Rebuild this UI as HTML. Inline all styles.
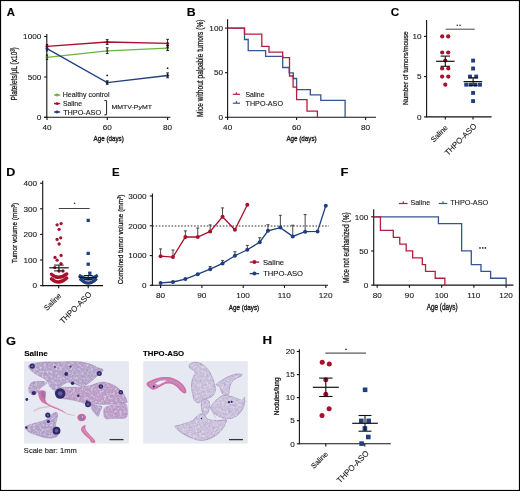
<!DOCTYPE html>
<html><head><meta charset="utf-8"><style>
html,body{margin:0;padding:0;background:#fff;}
svg{display:block;filter:blur(0.25px);font-family:"Liberation Sans",sans-serif;}
</style></head><body>
<svg width="520" height="491" viewBox="0 0 520 491">
<defs>
<filter id="tex" x="-5%" y="-5%" width="110%" height="110%" color-interpolation-filters="sRGB">
<feTurbulence type="fractalNoise" baseFrequency="0.45" numOctaves="2" seed="7" result="n0"/>
<feGaussianBlur in="n0" stdDeviation="0.45" result="n"/>
<feColorMatrix in="n" type="matrix" values="0 0 0 0 1  0 0 0 0 1  0 0 0 0 1  1.3 0 0 0 -0.58" result="w"/>
<feColorMatrix in="n" type="matrix" values="0 0 0 0 0.6  0 0 0 0 0.5  0 0 0 0 0.72  0 1.3 0 0 -0.72" result="d"/>
<feComposite in="w" in2="SourceGraphic" operator="in" result="wc"/>
<feComposite in="d" in2="SourceGraphic" operator="in" result="dc"/>
<feMerge><feMergeNode in="SourceGraphic"/><feMergeNode in="wc"/><feMergeNode in="dc"/></feMerge>
</filter>
</defs>
<rect width="520" height="491" fill="#fff"/>
<rect x="0.5" y="0.5" width="519" height="490" fill="none" stroke="#000" stroke-width="1.2"/>
<text transform="translate(6.82,16.30) scale(0.987,1)" font-size="11.49" font-weight="bold" fill="#000" stroke="#000" stroke-width="0.1215617224880383" >A</text>
<line x1="46.80" y1="34.00" x2="46.80" y2="117.85" stroke="#111" stroke-width="1.1" />
<line x1="44.20" y1="36.50" x2="46.80" y2="36.50" stroke="#111" stroke-width="1.1" />
<text transform="translate(23.12,39.22) scale(1.010,1)" font-size="8.10" font-weight="normal" fill="#1a1a1a" stroke="#1a1a1a" stroke-width="0.12">1000</text>
<line x1="44.20" y1="77.00" x2="46.80" y2="77.00" stroke="#111" stroke-width="1.1" />
<text transform="translate(27.66,79.72) scale(1.010,1)" font-size="8.10" font-weight="normal" fill="#1a1a1a" stroke="#1a1a1a" stroke-width="0.12">500</text>
<line x1="44.20" y1="117.30" x2="46.80" y2="117.30" stroke="#111" stroke-width="1.1" />
<text transform="translate(36.77,120.02) scale(1.010,1)" font-size="8.10" font-weight="normal" fill="#1a1a1a" stroke="#1a1a1a" stroke-width="0.12">0</text>
<line x1="44.20" y1="117.30" x2="170.30" y2="117.30" stroke="#111" stroke-width="1.1" />
<line x1="47.00" y1="117.30" x2="47.00" y2="119.90" stroke="#111" stroke-width="1.1" />
<text transform="translate(42.52,130.45) scale(1.010,1)" font-size="8.10" font-weight="normal" fill="#1a1a1a" stroke="#1a1a1a" stroke-width="0.12">40</text>
<line x1="107.30" y1="117.30" x2="107.30" y2="119.90" stroke="#111" stroke-width="1.1" />
<text transform="translate(102.71,130.45) scale(1.010,1)" font-size="8.10" font-weight="normal" fill="#1a1a1a" stroke="#1a1a1a" stroke-width="0.12">60</text>
<line x1="167.60" y1="117.30" x2="167.60" y2="119.90" stroke="#111" stroke-width="1.1" />
<text transform="translate(163.04,130.45) scale(1.010,1)" font-size="8.10" font-weight="normal" fill="#1a1a1a" stroke="#1a1a1a" stroke-width="0.12">80</text>
<text transform="translate(93.58,141.18) scale(0.910,1)" font-size="6.86" font-weight="normal" fill="#1a1a1a" stroke="#1a1a1a" stroke-width="0.3295751839789843" >Age (days)</text>
<text transform="translate(17.08,100.54) rotate(-90) scale(0.749,1)" font-size="8.80" font-weight="normal" fill="#1a1a1a" stroke="#1a1a1a" stroke-width="0.28">Platelets/μL (x10³)</text>
<polyline points="47.00,46.30 107.20,42.00 167.60,43.40" fill="none" stroke="#a8102c" stroke-width="1.3" stroke-linejoin="miter" />
<polyline points="47.00,57.30 107.20,50.80 167.60,48.10" fill="none" stroke="#6cb33f" stroke-width="1.3" stroke-linejoin="miter" />
<polyline points="47.00,48.60 107.20,82.60 167.60,75.50" fill="none" stroke="#1f3f7f" stroke-width="1.3" stroke-linejoin="miter" />
<circle cx="47.00" cy="46.30" r="1.50" fill="#a8102c"/>
<circle cx="107.20" cy="42.00" r="1.50" fill="#a8102c"/>
<circle cx="167.60" cy="43.40" r="1.50" fill="#a8102c"/>
<circle cx="47.00" cy="57.30" r="1.50" fill="#6cb33f"/>
<circle cx="107.20" cy="50.80" r="1.50" fill="#6cb33f"/>
<circle cx="167.60" cy="48.10" r="1.50" fill="#6cb33f"/>
<circle cx="47.00" cy="48.60" r="1.50" fill="#1f3f7f"/>
<circle cx="107.20" cy="82.60" r="1.50" fill="#1f3f7f"/>
<circle cx="167.60" cy="75.50" r="1.50" fill="#1f3f7f"/>
<line x1="107.20" y1="39.60" x2="107.20" y2="44.40" stroke="#111" stroke-width="0.9" />
<line x1="105.80" y1="39.60" x2="108.60" y2="39.60" stroke="#111" stroke-width="0.9" />
<line x1="105.80" y1="44.40" x2="108.60" y2="44.40" stroke="#111" stroke-width="0.9" />
<line x1="107.20" y1="47.80" x2="107.20" y2="53.60" stroke="#111" stroke-width="0.9" />
<line x1="105.80" y1="47.80" x2="108.60" y2="47.80" stroke="#111" stroke-width="0.9" />
<line x1="105.80" y1="53.60" x2="108.60" y2="53.60" stroke="#111" stroke-width="0.9" />
<line x1="107.20" y1="80.80" x2="107.20" y2="84.30" stroke="#111" stroke-width="0.9" />
<line x1="105.80" y1="80.80" x2="108.60" y2="80.80" stroke="#111" stroke-width="0.9" />
<line x1="105.80" y1="84.30" x2="108.60" y2="84.30" stroke="#111" stroke-width="0.9" />
<line x1="167.60" y1="39.30" x2="167.60" y2="47.00" stroke="#111" stroke-width="0.9" />
<line x1="166.20" y1="39.30" x2="169.00" y2="39.30" stroke="#111" stroke-width="0.9" />
<line x1="166.20" y1="47.00" x2="169.00" y2="47.00" stroke="#111" stroke-width="0.9" />
<line x1="167.60" y1="45.50" x2="167.60" y2="50.60" stroke="#111" stroke-width="0.9" />
<line x1="166.20" y1="45.50" x2="169.00" y2="45.50" stroke="#111" stroke-width="0.9" />
<line x1="166.20" y1="50.60" x2="169.00" y2="50.60" stroke="#111" stroke-width="0.9" />
<line x1="167.60" y1="72.90" x2="167.60" y2="77.80" stroke="#111" stroke-width="0.9" />
<line x1="166.20" y1="72.90" x2="169.00" y2="72.90" stroke="#111" stroke-width="0.9" />
<line x1="166.20" y1="77.80" x2="169.00" y2="77.80" stroke="#111" stroke-width="0.9" />
<line x1="47.00" y1="44.50" x2="47.00" y2="50.80" stroke="#111" stroke-width="0.9" />
<line x1="45.80" y1="44.50" x2="48.20" y2="44.50" stroke="#111" stroke-width="0.9" />
<line x1="45.80" y1="50.80" x2="48.20" y2="50.80" stroke="#111" stroke-width="0.9" />
<line x1="47.00" y1="55.00" x2="47.00" y2="59.50" stroke="#111" stroke-width="0.9" />
<line x1="45.80" y1="55.00" x2="48.20" y2="55.00" stroke="#111" stroke-width="0.9" />
<line x1="45.80" y1="59.50" x2="48.20" y2="59.50" stroke="#111" stroke-width="0.9" />
<circle cx="107.20" cy="75.40" r="0.90" fill="#222"/>
<circle cx="167.60" cy="68.20" r="0.90" fill="#222"/>
<line x1="54.00" y1="95.00" x2="60.20" y2="95.00" stroke="#6cb33f" stroke-width="1.4" />
<ellipse cx="57.0" cy="95.00" rx="1.7" ry="1.4" fill="#6cb33f"/>
<line x1="54.00" y1="103.60" x2="60.20" y2="103.60" stroke="#a8102c" stroke-width="1.4" />
<ellipse cx="57.0" cy="103.60" rx="1.7" ry="1.4" fill="#a8102c"/>
<line x1="54.00" y1="112.00" x2="60.20" y2="112.00" stroke="#1f3f7f" stroke-width="1.4" />
<ellipse cx="57.0" cy="112.00" rx="1.7" ry="1.4" fill="#1f3f7f"/>
<text transform="translate(62.72,97.38) scale(1.026,1)" font-size="6.86" font-weight="normal" fill="#1a1a1a" stroke="#1a1a1a" stroke-width="0.12" >Healthy control</text>
<text transform="translate(62.99,105.93) scale(1.047,1)" font-size="6.53" font-weight="normal" fill="#1a1a1a" stroke="#1a1a1a" stroke-width="0.12" >Saline</text>
<text transform="translate(63.14,114.83) scale(1.030,1)" font-size="7.07" font-weight="normal" fill="#1a1a1a" stroke="#1a1a1a" stroke-width="0.12" >THPO-ASO</text>
<polyline points="104.30,100.60 106.60,100.60 106.60,114.80 104.30,114.80" fill="none" stroke="#222" stroke-width="1.0" stroke-linejoin="miter" />
<text transform="translate(111.43,109.44) scale(1.244,1)" font-size="5.59" font-weight="normal" fill="#1a1a1a" stroke="#1a1a1a" stroke-width="0.12" >MMTV-PyMT</text>
<text transform="translate(186.67,16.30) scale(1.142,1)" font-size="10.76" font-weight="bold" fill="#000" stroke="#000" stroke-width="0.12" >B</text>
<line x1="227.60" y1="19.30" x2="227.60" y2="117.85" stroke="#111" stroke-width="1.1" />
<line x1="225.00" y1="28.10" x2="227.60" y2="28.10" stroke="#111" stroke-width="1.1" />
<text transform="translate(209.36,30.82) scale(1.010,1)" font-size="8.10" font-weight="normal" fill="#1a1a1a" stroke="#1a1a1a" stroke-width="0.12">100</text>
<line x1="225.00" y1="72.70" x2="227.60" y2="72.70" stroke="#111" stroke-width="1.1" />
<text transform="translate(213.93,75.42) scale(1.010,1)" font-size="8.10" font-weight="normal" fill="#1a1a1a" stroke="#1a1a1a" stroke-width="0.12">50</text>
<line x1="225.00" y1="117.30" x2="227.60" y2="117.30" stroke="#111" stroke-width="1.1" />
<text transform="translate(218.47,120.02) scale(1.010,1)" font-size="8.10" font-weight="normal" fill="#1a1a1a" stroke="#1a1a1a" stroke-width="0.12">0</text>
<line x1="227.60" y1="117.30" x2="376.00" y2="117.30" stroke="#111" stroke-width="1.1" />
<line x1="227.60" y1="117.30" x2="227.60" y2="119.90" stroke="#111" stroke-width="1.1" />
<text transform="translate(223.12,130.45) scale(1.010,1)" font-size="8.10" font-weight="normal" fill="#1a1a1a" stroke="#1a1a1a" stroke-width="0.12">40</text>
<line x1="296.60" y1="117.30" x2="296.60" y2="119.90" stroke="#111" stroke-width="1.1" />
<text transform="translate(292.01,130.45) scale(1.010,1)" font-size="8.10" font-weight="normal" fill="#1a1a1a" stroke="#1a1a1a" stroke-width="0.12">60</text>
<line x1="365.60" y1="117.30" x2="365.60" y2="119.90" stroke="#111" stroke-width="1.1" />
<text transform="translate(361.04,130.45) scale(1.010,1)" font-size="8.10" font-weight="normal" fill="#1a1a1a" stroke="#1a1a1a" stroke-width="0.12">80</text>
<text transform="translate(286.38,141.18) scale(0.916,1)" font-size="6.86" font-weight="normal" fill="#1a1a1a" stroke="#1a1a1a" stroke-width="0.32737801608579115" >Age (days)</text>
<text transform="translate(202.80,116.94) rotate(-90) scale(0.710,1)" font-size="9.29" font-weight="normal" fill="#1a1a1a" stroke="#1a1a1a" stroke-width="0.28">Mice without palpable tumors (%)</text>
<polyline points="227.60,28.10 244.50,28.10 244.50,39.50 248.20,39.50 248.20,50.60 265.60,50.60 265.60,56.30 282.70,56.30 282.70,67.50 289.20,67.50 289.20,72.90 293.30,72.90 293.30,78.50 296.60,78.50 296.60,89.60 310.30,89.60 310.30,94.90 320.80,94.90 320.80,100.40 345.10,100.40 345.10,117.30" fill="none" stroke="#36548f" stroke-width="1.3" stroke-linejoin="miter" />
<polyline points="227.60,28.10 244.50,28.10 244.50,34.20 261.80,34.20 261.80,46.40 269.00,46.40 269.00,52.10 282.70,52.10 282.70,57.70 289.50,57.70 289.50,76.00 293.10,76.00 293.10,87.20 296.60,87.20 296.60,99.70 307.00,99.70 307.00,111.20 317.40,111.20 317.40,117.30" fill="none" stroke="#b81c3e" stroke-width="1.3" stroke-linejoin="miter" />
<line x1="232.80" y1="94.30" x2="240.00" y2="94.30" stroke="#b81c3e" stroke-width="1.2" />
<line x1="236.40" y1="92.20" x2="236.40" y2="94.30" stroke="#b81c3e" stroke-width="1.1" />
<line x1="232.80" y1="103.20" x2="240.00" y2="103.20" stroke="#36548f" stroke-width="1.2" />
<line x1="236.40" y1="101.10" x2="236.40" y2="103.20" stroke="#36548f" stroke-width="1.1" />
<text transform="translate(245.39,96.53) scale(0.936,1)" font-size="7.35" font-weight="normal" fill="#1a1a1a" stroke="#1a1a1a" stroke-width="0.12819415333701026" >Saline</text>
<text transform="translate(245.54,105.92) scale(0.924,1)" font-size="7.77" font-weight="normal" fill="#1a1a1a" stroke="#1a1a1a" stroke-width="0.12990736319358226" >THPO-ASO</text>
<text transform="translate(390.73,16.29) scale(1.109,1)" font-size="10.60" font-weight="bold" fill="#000" stroke="#000" stroke-width="0.12" >C</text>
<line x1="426.60" y1="20.00" x2="426.60" y2="117.45" stroke="#111" stroke-width="1.1" />
<line x1="424.00" y1="36.40" x2="426.60" y2="36.40" stroke="#111" stroke-width="1.1" />
<text transform="translate(412.53,39.12) scale(1.010,1)" font-size="8.10" font-weight="normal" fill="#1a1a1a" stroke="#1a1a1a" stroke-width="0.12">10</text>
<line x1="424.00" y1="76.60" x2="426.60" y2="76.60" stroke="#111" stroke-width="1.1" />
<text transform="translate(417.09,79.32) scale(1.010,1)" font-size="8.10" font-weight="normal" fill="#1a1a1a" stroke="#1a1a1a" stroke-width="0.12">5</text>
<line x1="424.00" y1="116.90" x2="426.60" y2="116.90" stroke="#111" stroke-width="1.1" />
<text transform="translate(417.07,119.62) scale(1.010,1)" font-size="8.10" font-weight="normal" fill="#1a1a1a" stroke="#1a1a1a" stroke-width="0.12">0</text>
<line x1="426.60" y1="116.90" x2="491.60" y2="116.90" stroke="#111" stroke-width="1.1" />
<line x1="445.30" y1="116.90" x2="445.30" y2="119.50" stroke="#111" stroke-width="1.1" />
<line x1="473.00" y1="116.90" x2="473.00" y2="119.50" stroke="#111" stroke-width="1.1" />
<text transform="translate(407.67,105.04) rotate(-90) scale(0.859,1)" font-size="7.60" font-weight="normal" fill="#1a1a1a" stroke="#1a1a1a" stroke-width="0.28">Number of tumors/mouse</text>
<text transform="translate(433.74,142.65) rotate(-45)" font-size="7.36" font-weight="normal" fill="#1a1a1a" stroke="#1a1a1a" stroke-width="0.12">Saline</text>
<text transform="translate(447.88,155.91) rotate(-45)" font-size="7.94" font-weight="normal" fill="#1a1a1a" stroke="#1a1a1a" stroke-width="0.12">THPO-ASO</text>
<line x1="445.70" y1="29.20" x2="474.80" y2="29.20" stroke="#444" stroke-width="1.0" />
<circle cx="457.30" cy="25.30" r="0.80" fill="#222"/>
<circle cx="460.00" cy="25.30" r="0.80" fill="#222"/>
<circle cx="442.20" cy="36.40" r="2.10" fill="#a8102c"/>
<circle cx="448.20" cy="36.40" r="2.10" fill="#a8102c"/>
<circle cx="442.20" cy="52.50" r="2.10" fill="#a8102c"/>
<circle cx="448.20" cy="52.50" r="2.10" fill="#a8102c"/>
<circle cx="445.30" cy="60.50" r="2.10" fill="#a8102c"/>
<circle cx="442.10" cy="68.50" r="2.10" fill="#a8102c"/>
<circle cx="448.30" cy="68.50" r="2.10" fill="#a8102c"/>
<circle cx="442.10" cy="76.60" r="2.10" fill="#a8102c"/>
<circle cx="448.30" cy="76.60" r="2.10" fill="#a8102c"/>
<circle cx="445.30" cy="84.70" r="2.10" fill="#a8102c"/>
<line x1="436.10" y1="61.30" x2="454.60" y2="61.30" stroke="#111" stroke-width="1.2" />
<line x1="445.30" y1="56.10" x2="445.30" y2="66.30" stroke="#111" stroke-width="1.1" />
<line x1="440.60" y1="56.10" x2="450.00" y2="56.10" stroke="#111" stroke-width="1.1" />
<line x1="440.60" y1="66.30" x2="450.00" y2="66.30" stroke="#111" stroke-width="1.1" />
<rect x="471.15" y="58.65" width="3.90" height="3.90" fill="#1f3f7f"/>
<rect x="471.15" y="66.55" width="3.90" height="3.90" fill="#1f3f7f"/>
<rect x="468.05" y="74.65" width="3.90" height="3.90" fill="#1f3f7f"/>
<rect x="474.25" y="74.65" width="3.90" height="3.90" fill="#1f3f7f"/>
<rect x="464.25" y="82.75" width="3.90" height="3.90" fill="#1f3f7f"/>
<rect x="468.65" y="82.75" width="3.90" height="3.90" fill="#1f3f7f"/>
<rect x="473.45" y="82.75" width="3.90" height="3.90" fill="#1f3f7f"/>
<rect x="478.05" y="82.75" width="3.90" height="3.90" fill="#1f3f7f"/>
<rect x="471.15" y="90.95" width="3.90" height="3.90" fill="#1f3f7f"/>
<rect x="471.15" y="99.15" width="3.90" height="3.90" fill="#1f3f7f"/>
<line x1="463.60" y1="81.60" x2="482.20" y2="81.60" stroke="#111" stroke-width="1.2" />
<line x1="473.10" y1="77.80" x2="473.10" y2="85.40" stroke="#111" stroke-width="1.1" />
<line x1="468.60" y1="77.80" x2="477.60" y2="77.80" stroke="#111" stroke-width="1.1" />
<line x1="468.60" y1="85.40" x2="477.60" y2="85.40" stroke="#111" stroke-width="1.1" />
<text transform="translate(6.25,176.20) scale(1.235,1)" font-size="10.18" font-weight="bold" fill="#000" stroke="#000" stroke-width="0.12" >D</text>
<line x1="42.70" y1="180.80" x2="42.70" y2="286.15" stroke="#111" stroke-width="1.1" />
<line x1="40.10" y1="183.20" x2="42.70" y2="183.20" stroke="#111" stroke-width="1.1" />
<text transform="translate(23.46,185.92) scale(1.010,1)" font-size="8.10" font-weight="normal" fill="#1a1a1a" stroke="#1a1a1a" stroke-width="0.12">400</text>
<line x1="40.10" y1="208.80" x2="42.70" y2="208.80" stroke="#111" stroke-width="1.1" />
<text transform="translate(23.46,211.52) scale(1.010,1)" font-size="8.10" font-weight="normal" fill="#1a1a1a" stroke="#1a1a1a" stroke-width="0.12">300</text>
<line x1="40.10" y1="234.40" x2="42.70" y2="234.40" stroke="#111" stroke-width="1.1" />
<text transform="translate(23.46,237.12) scale(1.010,1)" font-size="8.10" font-weight="normal" fill="#1a1a1a" stroke="#1a1a1a" stroke-width="0.12">200</text>
<line x1="40.10" y1="260.00" x2="42.70" y2="260.00" stroke="#111" stroke-width="1.1" />
<text transform="translate(23.46,262.72) scale(1.010,1)" font-size="8.10" font-weight="normal" fill="#1a1a1a" stroke="#1a1a1a" stroke-width="0.12">100</text>
<line x1="40.10" y1="285.60" x2="42.70" y2="285.60" stroke="#111" stroke-width="1.1" />
<text transform="translate(32.57,288.32) scale(1.010,1)" font-size="8.10" font-weight="normal" fill="#1a1a1a" stroke="#1a1a1a" stroke-width="0.12">0</text>
<line x1="42.70" y1="285.60" x2="103.10" y2="285.60" stroke="#111" stroke-width="1.1" />
<line x1="58.70" y1="285.60" x2="58.70" y2="288.20" stroke="#111" stroke-width="1.1" />
<line x1="88.20" y1="285.60" x2="88.20" y2="288.20" stroke="#111" stroke-width="1.1" />
<text transform="translate(17.09,263.35) rotate(-90) scale(0.807,1)" font-size="8.07" font-weight="normal" fill="#1a1a1a" stroke="#1a1a1a" stroke-width="0.28">Tumor volume (mm³)</text>
<text transform="translate(47.09,310.96) rotate(-45)" font-size="7.49" font-weight="normal" fill="#1a1a1a" stroke="#1a1a1a" stroke-width="0.12">Saline</text>
<text transform="translate(62.89,324.23) rotate(-45)" font-size="7.94" font-weight="normal" fill="#1a1a1a" stroke="#1a1a1a" stroke-width="0.12">THPO-ASO</text>
<line x1="58.80" y1="208.50" x2="89.70" y2="208.50" stroke="#444" stroke-width="1.0" />
<circle cx="74.60" cy="203.30" r="0.80" fill="#222"/>
<path d="M51.4,274.2 Q58.4,280.6 66.8,273.9" fill="none" stroke="#a8102c" stroke-width="3.3" stroke-linecap="round"/>
<path d="M51.4,278.8 Q58.4,285.6 66.8,278.0" fill="none" stroke="#a8102c" stroke-width="3.3" stroke-linecap="round"/>
<circle cx="57.10" cy="224.80" r="1.65" fill="#a8102c"/>
<circle cx="61.10" cy="223.60" r="1.65" fill="#a8102c"/>
<circle cx="59.10" cy="229.30" r="1.65" fill="#a8102c"/>
<circle cx="57.10" cy="239.40" r="1.65" fill="#a8102c"/>
<circle cx="60.70" cy="237.80" r="1.65" fill="#a8102c"/>
<circle cx="59.10" cy="244.00" r="1.65" fill="#a8102c"/>
<circle cx="55.00" cy="257.40" r="1.65" fill="#a8102c"/>
<circle cx="61.10" cy="255.40" r="1.65" fill="#a8102c"/>
<circle cx="57.10" cy="260.20" r="1.65" fill="#a8102c"/>
<circle cx="61.00" cy="263.60" r="1.65" fill="#a8102c"/>
<circle cx="54.80" cy="267.60" r="1.65" fill="#a8102c"/>
<circle cx="59.00" cy="271.00" r="1.65" fill="#a8102c"/>
<circle cx="63.00" cy="271.00" r="1.65" fill="#a8102c"/>
<line x1="49.30" y1="267.80" x2="68.70" y2="267.80" stroke="#111" stroke-width="1.2" />
<line x1="58.90" y1="265.10" x2="58.90" y2="270.90" stroke="#111" stroke-width="1.0" />
<line x1="54.10" y1="265.10" x2="63.70" y2="265.10" stroke="#111" stroke-width="1.0" />
<line x1="54.10" y1="270.90" x2="63.70" y2="270.90" stroke="#111" stroke-width="1.0" />
<rect x="86.55" y="218.75" width="3.30" height="3.30" fill="#1f3f7f"/>
<rect x="86.55" y="251.75" width="3.30" height="3.30" fill="#1f3f7f"/>
<rect x="86.55" y="262.55" width="3.30" height="3.30" fill="#1f3f7f"/>
<rect x="88.15" y="271.55" width="3.30" height="3.30" fill="#1f3f7f"/>
<path d="M80.2,276.0 Q88.2,281.5 96.4,276.0" fill="none" stroke="#1f3f7f" stroke-width="3.2" stroke-linecap="square"/>
<path d="M81.0,279.6 Q88.2,286.6 95.6,279.6" fill="none" stroke="#1f3f7f" stroke-width="3.2" stroke-linecap="square"/>
<line x1="78.70" y1="277.60" x2="97.20" y2="277.60" stroke="#111" stroke-width="1.2" />
<line x1="88.20" y1="275.50" x2="88.20" y2="279.80" stroke="#111" stroke-width="1.0" />
<line x1="83.70" y1="275.50" x2="92.70" y2="275.50" stroke="#111" stroke-width="1.0" />
<line x1="83.70" y1="279.80" x2="92.70" y2="279.80" stroke="#111" stroke-width="1.0" />
<text transform="translate(112.03,176.20) scale(1.122,1)" font-size="10.18" font-weight="bold" fill="#000" stroke="#000" stroke-width="0.12" >E</text>
<line x1="152.40" y1="193.60" x2="152.40" y2="285.85" stroke="#111" stroke-width="1.1" />
<line x1="149.80" y1="196.00" x2="152.40" y2="196.00" stroke="#111" stroke-width="1.1" />
<text transform="translate(128.32,198.72) scale(1.010,1)" font-size="8.10" font-weight="normal" fill="#1a1a1a" stroke="#1a1a1a" stroke-width="0.12">3000</text>
<line x1="149.80" y1="225.80" x2="152.40" y2="225.80" stroke="#111" stroke-width="1.1" />
<text transform="translate(128.32,228.52) scale(1.010,1)" font-size="8.10" font-weight="normal" fill="#1a1a1a" stroke="#1a1a1a" stroke-width="0.12">2000</text>
<line x1="149.80" y1="255.60" x2="152.40" y2="255.60" stroke="#111" stroke-width="1.1" />
<text transform="translate(128.32,258.32) scale(1.010,1)" font-size="8.10" font-weight="normal" fill="#1a1a1a" stroke="#1a1a1a" stroke-width="0.12">1000</text>
<line x1="149.80" y1="285.30" x2="152.40" y2="285.30" stroke="#111" stroke-width="1.1" />
<text transform="translate(141.97,288.02) scale(1.010,1)" font-size="8.10" font-weight="normal" fill="#1a1a1a" stroke="#1a1a1a" stroke-width="0.12">0</text>
<line x1="151.00" y1="285.30" x2="328.00" y2="285.30" stroke="#111" stroke-width="1.1" />
<line x1="160.60" y1="285.30" x2="160.60" y2="287.90" stroke="#111" stroke-width="1.1" />
<text transform="translate(156.04,298.05) scale(1.010,1)" font-size="8.10" font-weight="normal" fill="#1a1a1a" stroke="#1a1a1a" stroke-width="0.12">80</text>
<line x1="201.90" y1="285.30" x2="201.90" y2="287.90" stroke="#111" stroke-width="1.1" />
<text transform="translate(197.32,298.05) scale(1.010,1)" font-size="8.10" font-weight="normal" fill="#1a1a1a" stroke="#1a1a1a" stroke-width="0.12">90</text>
<line x1="243.20" y1="285.30" x2="243.20" y2="287.90" stroke="#111" stroke-width="1.1" />
<text transform="translate(236.23,298.05) scale(1.010,1)" font-size="8.10" font-weight="normal" fill="#1a1a1a" stroke="#1a1a1a" stroke-width="0.12">100</text>
<line x1="284.50" y1="285.30" x2="284.50" y2="287.90" stroke="#111" stroke-width="1.1" />
<text transform="translate(277.83,298.05) scale(1.010,1)" font-size="8.10" font-weight="normal" fill="#1a1a1a" stroke="#1a1a1a" stroke-width="0.12">110</text>
<line x1="325.80" y1="285.30" x2="325.80" y2="287.90" stroke="#111" stroke-width="1.1" />
<text transform="translate(318.83,298.05) scale(1.010,1)" font-size="8.10" font-weight="normal" fill="#1a1a1a" stroke="#1a1a1a" stroke-width="0.12">120</text>
<text transform="translate(228.78,310.13) scale(0.889,1)" font-size="7.08" font-weight="normal" fill="#1a1a1a" stroke="#1a1a1a" stroke-width="0.33760857908847297" >Age (days)</text>
<text transform="translate(123.19,284.33) rotate(-90) scale(0.806,1)" font-size="8.07" font-weight="normal" fill="#1a1a1a" stroke="#1a1a1a" stroke-width="0.28">Combined tumor volume (mm³)</text>
<line x1="152.4" y1="226.0" x2="329" y2="226.0" stroke="#333" stroke-width="1" stroke-dasharray="1.6,1.6"/>
<line x1="160.60" y1="256.20" x2="160.60" y2="248.90" stroke="#333" stroke-width="0.9" />
<line x1="159.10" y1="248.90" x2="162.10" y2="248.90" stroke="#333" stroke-width="0.9" />
<line x1="172.99" y1="257.10" x2="172.99" y2="250.00" stroke="#333" stroke-width="0.9" />
<line x1="171.49" y1="250.00" x2="174.49" y2="250.00" stroke="#333" stroke-width="0.9" />
<line x1="185.38" y1="237.00" x2="185.38" y2="230.90" stroke="#333" stroke-width="0.9" />
<line x1="183.88" y1="230.90" x2="186.88" y2="230.90" stroke="#333" stroke-width="0.9" />
<line x1="197.77" y1="237.00" x2="197.77" y2="228.00" stroke="#333" stroke-width="0.9" />
<line x1="196.27" y1="228.00" x2="199.27" y2="228.00" stroke="#333" stroke-width="0.9" />
<line x1="210.16" y1="231.40" x2="210.16" y2="224.90" stroke="#333" stroke-width="0.9" />
<line x1="208.66" y1="224.90" x2="211.66" y2="224.90" stroke="#333" stroke-width="0.9" />
<line x1="222.55" y1="216.80" x2="222.55" y2="207.90" stroke="#333" stroke-width="0.9" />
<line x1="221.05" y1="207.90" x2="224.05" y2="207.90" stroke="#333" stroke-width="0.9" />
<line x1="210.16" y1="269.20" x2="210.16" y2="266.60" stroke="#333" stroke-width="0.9" />
<line x1="208.66" y1="266.60" x2="211.66" y2="266.60" stroke="#333" stroke-width="0.9" />
<line x1="222.55" y1="263.40" x2="222.55" y2="260.60" stroke="#333" stroke-width="0.9" />
<line x1="221.05" y1="260.60" x2="224.05" y2="260.60" stroke="#333" stroke-width="0.9" />
<line x1="234.94" y1="255.70" x2="234.94" y2="251.70" stroke="#333" stroke-width="0.9" />
<line x1="233.44" y1="251.70" x2="236.44" y2="251.70" stroke="#333" stroke-width="0.9" />
<line x1="247.33" y1="249.80" x2="247.33" y2="245.40" stroke="#333" stroke-width="0.9" />
<line x1="245.83" y1="245.40" x2="248.83" y2="245.40" stroke="#333" stroke-width="0.9" />
<line x1="259.72" y1="242.20" x2="259.72" y2="237.70" stroke="#333" stroke-width="0.9" />
<line x1="258.22" y1="237.70" x2="261.22" y2="237.70" stroke="#333" stroke-width="0.9" />
<line x1="267.98" y1="230.80" x2="267.98" y2="224.70" stroke="#333" stroke-width="0.9" />
<line x1="266.48" y1="224.70" x2="269.48" y2="224.70" stroke="#333" stroke-width="0.9" />
<line x1="280.37" y1="227.60" x2="280.37" y2="215.30" stroke="#333" stroke-width="0.9" />
<line x1="278.87" y1="215.30" x2="281.87" y2="215.30" stroke="#333" stroke-width="0.9" />
<line x1="292.76" y1="236.40" x2="292.76" y2="225.20" stroke="#333" stroke-width="0.9" />
<line x1="291.26" y1="225.20" x2="294.26" y2="225.20" stroke="#333" stroke-width="0.9" />
<line x1="305.15" y1="231.70" x2="305.15" y2="214.60" stroke="#333" stroke-width="0.9" />
<line x1="303.65" y1="214.60" x2="306.65" y2="214.60" stroke="#333" stroke-width="0.9" />
<polyline points="160.60,256.20 172.99,257.10 185.38,237.00 197.77,237.00 210.16,231.40 222.55,216.80 234.94,229.80 247.33,204.80" fill="none" stroke="#a8102c" stroke-width="1.3" stroke-linejoin="miter" />
<polyline points="160.60,282.90 172.99,282.00 185.38,279.10 197.77,274.20 210.16,269.20 222.55,263.40 234.94,255.70 247.33,249.80 259.72,242.20 267.98,230.80 280.37,227.60 292.76,236.40 305.15,231.70 317.54,231.40 325.80,205.70" fill="none" stroke="#1f3f7f" stroke-width="1.3" stroke-linejoin="miter" />
<circle cx="160.60" cy="256.20" r="2.00" fill="#a8102c"/>
<circle cx="172.99" cy="257.10" r="2.00" fill="#a8102c"/>
<circle cx="185.38" cy="237.00" r="2.00" fill="#a8102c"/>
<circle cx="197.77" cy="237.00" r="2.00" fill="#a8102c"/>
<circle cx="210.16" cy="231.40" r="2.00" fill="#a8102c"/>
<circle cx="222.55" cy="216.80" r="2.00" fill="#a8102c"/>
<circle cx="234.94" cy="229.80" r="2.00" fill="#a8102c"/>
<circle cx="247.33" cy="204.80" r="2.00" fill="#a8102c"/>
<circle cx="160.60" cy="282.90" r="2.00" fill="#1f3f7f"/>
<circle cx="172.99" cy="282.00" r="2.00" fill="#1f3f7f"/>
<circle cx="185.38" cy="279.10" r="2.00" fill="#1f3f7f"/>
<circle cx="197.77" cy="274.20" r="2.00" fill="#1f3f7f"/>
<circle cx="210.16" cy="269.20" r="2.00" fill="#1f3f7f"/>
<circle cx="222.55" cy="263.40" r="2.00" fill="#1f3f7f"/>
<circle cx="234.94" cy="255.70" r="2.00" fill="#1f3f7f"/>
<circle cx="247.33" cy="249.80" r="2.00" fill="#1f3f7f"/>
<circle cx="259.72" cy="242.20" r="2.00" fill="#1f3f7f"/>
<circle cx="267.98" cy="230.80" r="2.00" fill="#1f3f7f"/>
<circle cx="280.37" cy="227.60" r="2.00" fill="#1f3f7f"/>
<circle cx="292.76" cy="236.40" r="2.00" fill="#1f3f7f"/>
<circle cx="305.15" cy="231.70" r="2.00" fill="#1f3f7f"/>
<circle cx="317.54" cy="231.40" r="2.00" fill="#1f3f7f"/>
<circle cx="325.80" cy="205.70" r="2.00" fill="#1f3f7f"/>
<line x1="249.70" y1="262.10" x2="259.10" y2="262.10" stroke="#a8102c" stroke-width="1.3" />
<circle cx="254.40" cy="262.10" r="2.00" fill="#a8102c"/>
<line x1="249.70" y1="273.60" x2="259.10" y2="273.60" stroke="#1f3f7f" stroke-width="1.3" />
<circle cx="254.40" cy="273.60" r="2.00" fill="#1f3f7f"/>
<text transform="translate(262.96,264.73) scale(1.037,1)" font-size="7.35" font-weight="normal" fill="#1a1a1a" stroke="#1a1a1a" stroke-width="0.12" >Saline</text>
<text transform="translate(263.13,276.22) scale(1.004,1)" font-size="7.63" font-weight="normal" fill="#1a1a1a" stroke="#1a1a1a" stroke-width="0.12" >THPO-ASO</text>
<text transform="translate(340.62,176.00) scale(1.277,1)" font-size="10.18" font-weight="bold" fill="#000" stroke="#000" stroke-width="0.12" >F</text>
<line x1="373.70" y1="209.20" x2="373.70" y2="285.65" stroke="#111" stroke-width="1.1" />
<line x1="371.10" y1="216.80" x2="373.70" y2="216.80" stroke="#111" stroke-width="1.1" />
<text transform="translate(354.66,219.52) scale(1.010,1)" font-size="8.10" font-weight="normal" fill="#1a1a1a" stroke="#1a1a1a" stroke-width="0.12">100</text>
<line x1="371.10" y1="251.00" x2="373.70" y2="251.00" stroke="#111" stroke-width="1.1" />
<text transform="translate(359.23,253.72) scale(1.010,1)" font-size="8.10" font-weight="normal" fill="#1a1a1a" stroke="#1a1a1a" stroke-width="0.12">50</text>
<line x1="371.10" y1="285.10" x2="373.70" y2="285.10" stroke="#111" stroke-width="1.1" />
<text transform="translate(363.77,287.82) scale(1.010,1)" font-size="8.10" font-weight="normal" fill="#1a1a1a" stroke="#1a1a1a" stroke-width="0.12">0</text>
<line x1="373.70" y1="285.10" x2="513.40" y2="285.10" stroke="#111" stroke-width="1.1" />
<line x1="377.20" y1="285.10" x2="377.20" y2="287.70" stroke="#111" stroke-width="1.1" />
<text transform="translate(372.64,298.05) scale(1.010,1)" font-size="8.10" font-weight="normal" fill="#1a1a1a" stroke="#1a1a1a" stroke-width="0.12">80</text>
<line x1="409.43" y1="285.10" x2="409.43" y2="287.70" stroke="#111" stroke-width="1.1" />
<text transform="translate(404.84,298.05) scale(1.010,1)" font-size="8.10" font-weight="normal" fill="#1a1a1a" stroke="#1a1a1a" stroke-width="0.12">90</text>
<line x1="441.65" y1="285.10" x2="441.65" y2="287.70" stroke="#111" stroke-width="1.1" />
<text transform="translate(434.68,298.05) scale(1.010,1)" font-size="8.10" font-weight="normal" fill="#1a1a1a" stroke="#1a1a1a" stroke-width="0.12">100</text>
<line x1="473.88" y1="285.10" x2="473.88" y2="287.70" stroke="#111" stroke-width="1.1" />
<text transform="translate(467.21,298.05) scale(1.010,1)" font-size="8.10" font-weight="normal" fill="#1a1a1a" stroke="#1a1a1a" stroke-width="0.12">110</text>
<line x1="506.10" y1="285.10" x2="506.10" y2="287.70" stroke="#111" stroke-width="1.1" />
<text transform="translate(499.13,298.05) scale(1.010,1)" font-size="8.10" font-weight="normal" fill="#1a1a1a" stroke="#1a1a1a" stroke-width="0.12">120</text>
<text transform="translate(426.68,309.91) scale(0.785,1)" font-size="8.15" font-weight="normal" fill="#1a1a1a" stroke="#1a1a1a" stroke-width="0.38238825649365027" >Age (days)</text>
<text transform="translate(348.64,283.04) rotate(-90) scale(0.726,1)" font-size="9.05" font-weight="normal" fill="#1a1a1a" stroke="#1a1a1a" stroke-width="0.28">Mice not euthanized (%)</text>
<polyline points="373.70,216.80 438.43,216.80 438.43,223.63 461.63,223.63 461.63,250.95 471.30,250.95 471.30,264.61 480.96,264.61 480.96,271.44 490.63,271.44 490.63,278.27 506.10,278.27 506.10,285.10" fill="none" stroke="#36548f" stroke-width="1.3" stroke-linejoin="miter" />
<polyline points="373.70,216.80 380.42,216.80 380.42,230.46 393.31,230.46 393.31,237.29 399.76,237.29 399.76,244.12 406.20,244.12 406.20,250.95 412.65,250.95 412.65,257.78 422.31,257.78 422.31,264.61 425.54,264.61 425.54,271.44 435.20,271.44 435.20,278.27 444.87,278.27 444.87,285.10" fill="none" stroke="#b81c3e" stroke-width="1.3" stroke-linejoin="miter" />
<circle cx="480.00" cy="247.90" r="0.85" fill="#222"/>
<circle cx="482.70" cy="247.90" r="0.85" fill="#222"/>
<circle cx="485.40" cy="247.90" r="0.85" fill="#222"/>
<line x1="398.90" y1="203.50" x2="407.60" y2="203.50" stroke="#b81c3e" stroke-width="1.2" />
<line x1="403.30" y1="201.30" x2="403.30" y2="203.50" stroke="#b81c3e" stroke-width="1.1" />
<line x1="438.70" y1="203.50" x2="447.30" y2="203.50" stroke="#36548f" stroke-width="1.2" />
<line x1="443.00" y1="201.30" x2="443.00" y2="203.50" stroke="#36548f" stroke-width="1.1" />
<text transform="translate(410.48,204.83) scale(0.980,1)" font-size="7.21" font-weight="normal" fill="#1a1a1a" stroke="#1a1a1a" stroke-width="0.12250912996777685" >Saline</text>
<text transform="translate(450.14,204.83) scale(0.977,1)" font-size="7.49" font-weight="normal" fill="#1a1a1a" stroke="#1a1a1a" stroke-width="0.12285909776832189" >THPO-ASO</text>
<text transform="translate(6.08,344.50) scale(1.284,1)" font-size="10.04" font-weight="bold" fill="#000" stroke="#000" stroke-width="0.12" >G</text>
<text transform="translate(24.16,356.32) scale(1.020,1)" font-size="7.89" font-weight="bold" fill="#000" stroke="#000" stroke-width="0.12" >Saline</text>
<text transform="translate(143.02,356.13) scale(1.105,1)" font-size="7.07" font-weight="bold" fill="#000" stroke="#000" stroke-width="0.12" >THPO-ASO</text>
<text transform="translate(23.86,452.92) scale(0.958,1)" font-size="7.89" font-weight="normal" fill="#1a1a1a" stroke="#1a1a1a" stroke-width="0.12527400211524176" >Scale bar: 1mm</text>
<rect x="24.0" y="361.2" width="104.9" height="82.4" fill="#e6e9f1"/>
<rect x="143.2" y="361.2" width="104.6" height="82.4" fill="#e6e9f1"/>
<path d="M28.7,367.2 C28.3,365.7 28.7,365.4 30.6,364.5 C32.5,363.6 34.5,363.3 38.2,362.8 C41.9,362.3 44.6,362.2 48.9,362.1 C53.2,362.0 55.4,362.2 59.7,362.1 C64.0,362.0 66.8,361.9 70.5,361.8 C74.2,361.7 75.1,361.6 78.0,361.8 C80.9,362.0 81.9,362.2 84.8,362.8 C87.7,363.4 89.7,364.0 92.3,365.0 C94.9,366.0 95.5,366.7 97.7,367.7 C99.9,368.7 102.7,368.7 103.1,369.8 C103.5,370.9 101.3,371.6 99.8,373.1 C98.3,374.6 97.2,375.8 95.5,377.4 C93.8,379.0 93.1,379.7 91.2,381.2 C89.3,382.7 87.8,383.9 85.8,384.9 C83.8,385.9 83.3,386.4 81.3,386.3 C79.3,386.2 78.3,385.1 76.0,384.3 C73.7,383.5 72.2,382.6 70.0,382.4 C67.8,382.2 66.8,382.5 65.0,383.3 C63.2,384.1 62.8,385.2 61.0,386.5 C59.2,387.8 57.6,389.0 56.0,389.6 C54.4,390.2 54.2,389.8 53.2,389.5 C52.2,389.2 51.9,388.8 51.2,388.0 C50.5,387.2 50.2,386.8 49.6,385.7 C49.0,384.6 48.9,383.8 48.1,382.6 C47.3,381.4 47.0,380.6 45.8,379.5 C44.6,378.4 43.6,378.1 41.9,377.2 C40.2,376.3 39.1,376.0 37.3,374.9 C35.5,373.8 34.4,373.3 32.7,371.8 C31.0,370.3 29.1,368.7 28.7,367.2Z" fill="#b4a3c9" stroke="#9a82b2" stroke-width="0.6" filter="url(#tex)" />
<path d="M28.8,389.5 C28.6,388.0 29.0,387.1 29.6,385.7 C30.2,384.3 30.5,383.4 31.9,382.6 C33.3,381.8 34.5,381.7 36.5,381.5 C38.5,381.3 40.0,381.4 41.9,381.5 C43.8,381.6 44.9,381.8 45.8,382.2 C46.7,382.6 47.0,382.7 46.5,383.4 C46.0,384.1 44.7,384.8 43.5,385.7 C42.3,386.6 41.5,386.9 40.4,388.0 C39.3,389.1 38.9,390.0 38.1,391.1 C37.3,392.2 37.4,392.6 36.5,393.4 C35.6,394.2 34.7,394.9 33.5,394.9 C32.3,394.9 31.3,394.5 30.4,393.4 C29.5,392.3 29.0,391.0 28.8,389.5Z" fill="#b4a3c9" stroke="#9a82b2" stroke-width="0.6" filter="url(#tex)" />
<path d="M56.5,389.5 C58.1,388.6 60.2,387.9 62.9,387.5 C65.6,387.1 67.0,387.4 70.0,387.4 C73.0,387.4 75.7,387.4 78.0,387.3 C80.3,387.2 79.1,387.2 81.3,386.9 C83.5,386.6 86.3,386.6 89.1,386.0 C91.9,385.4 92.9,384.6 95.5,383.8 C98.1,383.0 99.4,382.3 102.0,382.2 C104.6,382.1 105.9,382.5 108.5,383.3 C111.1,384.1 112.5,384.6 114.9,386.0 C117.3,387.4 118.4,388.4 120.3,390.3 C122.2,392.2 123.3,393.5 124.6,395.7 C125.9,397.9 126.4,399.8 126.8,401.1 C127.2,402.4 127.9,402.0 126.8,402.4 C125.7,402.8 125.5,402.5 121.4,402.9 C117.3,403.3 111.4,404.1 106.3,404.3 C101.2,404.5 99.7,404.0 96.0,404.0 C92.3,404.0 91.2,404.7 88.0,404.3 C84.8,403.9 83.6,402.8 80.0,401.8 C76.4,400.8 73.6,400.2 70.0,399.5 C66.4,398.8 64.7,399.1 62.0,398.2 C59.3,397.3 57.9,396.4 56.5,395.2 C55.1,394.0 55.0,393.1 55.0,392.0 C55.0,390.9 54.9,390.4 56.5,389.5Z" fill="#bb9dc7" stroke="#9a82b2" stroke-width="0.6" filter="url(#tex)" />
<path d="M91.2,404.3 C91.6,404.0 94.9,405.4 96.0,405.6 C97.1,405.8 101.6,405.9 102.0,406.5 C102.4,407.1 100.2,410.8 99.8,411.8 C99.4,412.8 98.7,416.1 98.2,416.2 C97.7,416.3 95.1,413.7 94.5,412.9 C93.9,412.1 92.1,409.5 91.8,408.6 C91.5,407.7 90.8,404.6 91.2,404.3Z" fill="#b4a3c9" stroke="#9a82b2" stroke-width="0.6" filter="url(#tex)" />
<path d="M104.2,408.6 C104.9,407.2 107.8,406.5 109.5,405.9 C111.2,405.3 115.1,404.6 117.1,404.3 C119.1,404.0 123.3,403.1 124.6,403.4 C125.9,403.7 126.4,405.1 126.8,406.5 C127.2,407.9 127.4,412.5 127.3,414.0 C127.2,415.5 126.8,417.2 125.7,417.8 C124.6,418.4 121.1,418.2 119.2,418.3 C117.3,418.4 113.4,418.2 111.7,418.3 C110.0,418.4 107.3,419.1 106.3,418.8 C105.3,418.5 104.5,417.6 104.2,416.2 C103.9,414.8 103.5,410.0 104.2,408.6Z" fill="#bb9dc7" stroke="#9a82b2" stroke-width="0.6" filter="url(#tex)" />
<path d="M25.8,426.9 C26.1,426.1 27.0,425.9 28.5,425.3 C30.0,424.7 32.8,423.8 34.9,423.2 C37.0,422.6 39.4,422.1 41.4,421.5 C43.4,420.9 45.4,420.3 46.8,419.4 C48.2,418.5 48.9,417.2 50.0,416.2 C51.1,415.2 52.1,414.1 53.2,413.5 C54.3,412.9 55.8,412.1 56.5,412.4 C57.2,412.7 57.5,413.8 57.5,415.1 C57.5,416.5 56.9,418.9 56.5,420.5 C56.1,422.1 55.4,423.2 55.4,424.8 C55.4,426.4 56.1,428.4 56.5,430.2 C56.9,432.0 58.0,434.2 57.5,435.5 C57.0,436.8 55.2,437.3 53.2,437.7 C51.2,438.1 48.2,438.1 45.7,437.7 C43.2,437.3 40.5,436.2 38.2,435.5 C35.9,434.8 33.6,434.3 31.7,433.4 C29.8,432.5 27.8,431.3 26.8,430.2 C25.8,429.1 25.5,427.7 25.8,426.9Z" fill="#b4a3c9" stroke="#9a82b2" stroke-width="0.6" filter="url(#tex)" />
<path d="M34.0,411.0 C35.6,410.2 36.8,409.1 40.0,408.0 C43.2,406.9 43.3,407.5 46.0,407.0 C48.7,406.5 48.9,406.3 50.0,406.0" fill="none" stroke="#d9c4d8" stroke-width="1.4" stroke-linecap="round"/>
<path d="M38.6,391.0 C37.9,391.6 38.1,392.6 38.2,393.7 C38.3,394.8 38.5,396.2 39.0,397.5 C39.5,398.8 40.2,400.3 41.3,401.4 C42.4,402.5 44.0,403.3 45.5,404.1 C47.0,404.9 48.5,405.6 50.2,406.4 C51.9,407.2 53.7,407.9 55.5,408.7 C57.3,409.5 59.1,410.1 60.9,411.0 C62.7,411.9 65.5,413.5 66.3,413.8 C67.1,414.1 66.9,413.6 65.9,412.9 C64.9,412.2 62.2,410.4 60.2,409.4 C58.2,408.4 55.8,407.6 54.0,406.8 C52.2,406.0 50.7,405.3 49.4,404.5 C48.1,403.7 46.9,402.7 46.3,401.8 C45.6,400.9 45.6,400.3 45.5,399.1 C45.4,397.9 45.9,395.8 45.9,394.5 C45.9,393.2 46.1,392.1 45.5,391.4 C44.9,390.7 43.6,390.3 42.5,390.2 C41.4,390.1 39.3,390.4 38.6,391.0Z" fill="#d274a6" />
<path d="M41.2,391.6 C41.7,391.1 43.6,390.9 44.2,391.4 C44.8,391.9 44.9,393.3 45.0,394.5 C45.1,395.7 45.0,398.0 44.6,398.6 C44.2,399.2 43.2,398.9 42.6,398.2 C42.0,397.5 41.2,395.7 41.0,394.6 C40.8,393.5 40.7,392.1 41.2,391.6Z" fill="#9a78ae" />
<path d="M47.0,403.5 C48.6,404.2 49.8,404.9 53.0,406.3 C56.2,407.7 56.1,407.4 59.0,408.8 C61.9,410.2 62.7,410.9 64.0,411.6" fill="none" stroke="#e6a2c6" stroke-width="0.6" stroke-linecap="round"/>
<path d="M67.0,414.0 C68.9,414.4 72.1,415.0 74.0,415.4" fill="none" stroke="#d9b0cc" stroke-width="0.9" stroke-linecap="round"/>
<ellipse cx="81.7" cy="417.5" rx="3.6" ry="3.0" fill="#8f78aa" stroke="#d46b9f" stroke-width="1.6"/>
<circle cx="82.4" cy="417.0" r="0.8" fill="#e8e0f0"/>
<path d="M84.3,425.2 C83.6,425.5 82.0,426.5 81.5,427.5 C81.0,428.5 81.0,429.9 81.6,431.2 C82.2,432.5 83.9,434.1 85.2,435.4 C86.5,436.7 88.6,438.0 89.6,439.2 C90.6,440.4 90.3,442.1 91.3,442.6 C92.3,443.1 95.1,443.0 95.4,442.3 C95.8,441.6 94.4,440.0 93.4,438.6 C92.4,437.2 90.5,435.6 89.3,434.2 C88.1,432.8 86.9,431.5 86.2,430.4 C85.5,429.3 85.4,428.2 85.3,427.4 C85.2,426.6 85.7,426.0 85.5,425.6 C85.3,425.2 85.0,424.9 84.3,425.2Z" fill="#d274a6" />
<path d="M83.6,428.5 C84.3,429.8 84.4,430.9 86.2,433.2 C88.0,435.5 88.4,435.1 90.2,437.2 C92.0,439.3 92.1,440.0 92.8,441.0" fill="none" stroke="#eab0cf" stroke-width="0.7" stroke-linecap="round"/>
<circle cx="32.2" cy="366.1" r="2.60" fill="#2e2a6c"/>
<circle cx="32.2" cy="366.1" r="1.17" fill="#6a5a9a"/>
<circle cx="66.2" cy="374.0" r="1.90" fill="#2e2a6c"/>
<circle cx="70.5" cy="366.6" r="1.00" fill="#2e2a6c"/>
<circle cx="55.0" cy="366.9" r="0.90" fill="#2e2a6c"/>
<circle cx="72.6" cy="383.3" r="1.80" fill="#2e2a6c"/>
<circle cx="99.3" cy="373.6" r="2.50" fill="#2e2a6c"/>
<circle cx="99.3" cy="373.6" r="1.12" fill="#6a5a9a"/>
<circle cx="100.9" cy="386.5" r="2.30" fill="#2e2a6c"/>
<circle cx="100.9" cy="386.5" r="1.03" fill="#6a5a9a"/>
<circle cx="120.8" cy="392.2" r="2.30" fill="#2e2a6c"/>
<circle cx="120.8" cy="392.2" r="1.03" fill="#6a5a9a"/>
<circle cx="78.3" cy="395.7" r="1.20" fill="#2e2a6c"/>
<circle cx="86.9" cy="401.3" r="1.00" fill="#2e2a6c"/>
<circle cx="88.0" cy="404.3" r="3.00" fill="#2e2a6c"/>
<circle cx="88.0" cy="404.3" r="1.35" fill="#6a5a9a"/>
<circle cx="60.2" cy="393.5" r="5.20" fill="#2e2a6c"/>
<circle cx="60.2" cy="393.5" r="2.34" fill="#6a5a9a"/>
<circle cx="33.8" cy="393.0" r="2.10" fill="#2e2a6c"/>
<circle cx="26.8" cy="399.5" r="1.40" fill="#2e2a6c"/>
<circle cx="47.8" cy="415.1" r="2.60" fill="#2e2a6c"/>
<circle cx="47.8" cy="415.1" r="1.17" fill="#6a5a9a"/>
<circle cx="48.4" cy="421.5" r="1.60" fill="#2e2a6c"/>
<circle cx="56.5" cy="430.7" r="3.90" fill="#2e2a6c"/>
<circle cx="56.5" cy="430.7" r="1.75" fill="#6a5a9a"/>
<circle cx="26.3" cy="427.5" r="1.20" fill="#2e2a6c"/>
<line x1="109.50" y1="439.60" x2="123.50" y2="439.60" stroke="#333" stroke-width="1.3" />
<path d="M189.1,366.0 C189.2,365.2 189.8,364.1 190.9,363.5 C192.0,362.9 194.2,362.3 195.8,362.3 C197.5,362.3 199.2,362.7 200.8,363.5 C202.5,364.3 204.3,365.9 205.7,367.2 C207.1,368.5 208.3,369.8 209.4,371.5 C210.5,373.2 211.7,375.6 212.5,377.7 C213.3,379.8 213.8,381.9 214.3,383.8 C214.8,385.7 215.5,387.2 215.5,388.8 C215.5,390.4 215.1,392.3 214.3,393.7 C213.5,395.1 212.0,396.6 210.6,397.4 C209.2,398.2 207.1,398.1 205.7,398.6 C204.3,399.1 203.2,399.8 202.0,400.5 C200.8,401.2 199.5,402.9 198.3,402.9 C197.1,402.9 195.5,401.8 194.6,400.5 C193.7,399.2 193.3,397.1 192.8,394.9 C192.3,392.7 191.6,389.9 191.5,387.5 C191.4,385.1 191.8,382.2 192.2,380.2 C192.6,378.1 193.5,376.5 194.0,375.2 C194.5,373.9 195.3,373.0 195.2,372.2 C195.1,371.4 194.2,370.9 193.4,370.3 C192.6,369.7 191.0,369.2 190.3,368.5 C189.6,367.8 189.0,366.8 189.1,366.0Z" fill="#c8bfda" stroke="#9a82b2" stroke-width="0.6" filter="url(#tex)" />
<path d="M216.2,384.5 C216.2,383.8 217.9,382.9 219.2,382.0 C220.5,381.1 222.3,379.9 224.2,378.9 C226.0,377.9 228.2,376.6 230.3,375.8 C232.4,375.0 234.6,374.2 236.5,374.0 C238.4,373.8 241.4,374.2 242.0,374.6 C242.6,375.0 241.3,375.8 240.2,376.5 C239.1,377.2 236.6,377.9 235.2,378.9 C233.8,379.9 232.4,381.2 231.5,382.6 C230.6,384.0 230.1,385.9 229.7,387.5 C229.3,389.1 229.4,391.3 229.1,392.5 C228.8,393.7 228.6,394.5 227.8,394.9 C227.0,395.3 225.2,395.3 224.2,394.9 C223.2,394.5 222.3,393.5 221.7,392.5 C221.1,391.5 220.9,389.8 220.5,388.8 C220.1,387.8 219.9,387.0 219.2,386.3 C218.5,385.6 216.2,385.2 216.2,384.5Z" fill="#c8bfda" stroke="#9a82b2" stroke-width="0.6" filter="url(#tex)" />
<path d="M201.9,401.1 C202.6,399.8 204.6,399.4 205.8,399.5 C207.0,399.6 208.7,400.6 209.3,401.9 C209.9,403.2 209.5,405.7 209.3,407.4 C209.1,409.1 208.8,410.9 208.2,412.1 C207.6,413.3 206.7,414.4 205.8,414.5 C204.9,414.6 203.4,414.1 202.7,412.9 C202.0,411.7 201.5,409.4 201.4,407.4 C201.3,405.4 201.2,402.4 201.9,401.1Z" fill="#c8bfda" stroke="#9a82b2" stroke-width="0.6" filter="url(#tex)" />
<path d="M210.6,407.4 C210.9,406.5 212.6,404.0 213.7,402.7 C214.8,401.4 217.2,398.9 218.5,398.0 C219.8,397.1 221.5,395.8 223.2,395.6 C224.9,395.4 229.2,396.0 231.1,396.4 C233.0,396.8 235.9,398.2 237.4,398.7 C238.9,399.2 241.2,400.5 242.1,400.3 C243.0,400.1 244.2,396.8 244.5,397.2 C244.8,397.6 244.8,401.8 244.5,403.5 C244.2,405.2 243.0,408.2 242.1,409.8 C241.2,411.4 238.9,414.2 237.4,415.3 C235.9,416.4 232.8,418.0 231.1,418.4 C229.4,418.8 226.5,418.7 224.8,418.4 C223.1,418.1 220.0,416.8 218.5,416.1 C217.0,415.4 214.6,413.7 213.7,412.9 C212.8,412.1 211.8,410.5 211.4,409.8 C211.0,409.1 210.3,408.3 210.6,407.4Z" fill="#c8bfda" stroke="#9a82b2" stroke-width="0.6" filter="url(#tex)" />
<path d="M175.1,426.3 C175.7,425.9 178.8,425.3 180.6,424.8 C182.4,424.3 186.8,423.0 188.5,422.4 C190.2,421.8 192.0,420.8 193.2,420.0 C194.4,419.2 196.1,416.9 197.2,416.1 C198.3,415.3 200.0,413.8 201.1,413.7 C202.2,413.6 204.4,414.7 205.1,415.3 C205.8,415.9 205.9,417.8 206.6,418.4 C207.3,419.0 209.0,419.7 210.6,420.0 C212.2,420.3 216.4,420.5 218.5,420.5 C220.6,420.5 225.6,419.4 226.4,420.0 C227.2,420.6 225.4,423.4 224.8,424.8 C224.2,426.2 222.9,428.8 221.6,430.3 C220.3,431.8 217.0,434.7 215.3,435.8 C213.6,436.9 210.7,438.3 209.0,438.9 C207.3,439.5 204.4,440.4 202.7,440.5 C201.0,440.6 198.1,440.1 196.4,439.7 C194.7,439.3 191.8,438.1 190.1,437.4 C188.4,436.7 185.3,435.0 183.8,434.2 C182.3,433.4 180.1,431.9 179.0,431.1 C177.9,430.3 176.4,428.5 175.9,427.9 C175.4,427.3 174.5,426.7 175.1,426.3Z" fill="#c8bfda" stroke="#9a82b2" stroke-width="0.6" filter="url(#tex)" />
<path d="M211.4,409.8 C212.0,410.9 212.5,411.9 213.5,414.0 C214.5,416.1 214.8,416.7 215.3,417.7" fill="none" stroke="#cdb9d6" stroke-width="0.9" stroke-linecap="round"/>
<path d="M147.2,383.8 C147.4,382.9 149.3,382.1 150.8,381.4 C152.3,380.6 153.9,379.9 156.0,379.3 C158.1,378.7 161.2,378.0 163.5,377.8 C165.8,377.6 167.9,377.6 170.0,378.0 C172.1,378.4 174.4,379.4 176.3,380.4 C178.2,381.4 180.0,382.7 181.4,384.0 C182.8,385.3 183.9,387.0 184.6,388.3 C185.3,389.6 185.8,391.3 185.6,392.0 C185.4,392.7 184.4,392.8 183.6,392.4 C182.8,392.0 181.9,390.9 180.7,389.8 C179.5,388.7 178.0,386.7 176.4,385.6 C174.8,384.5 172.9,383.4 171.1,383.0 C169.3,382.6 167.3,382.6 165.7,383.0 C164.1,383.4 162.8,384.4 161.4,385.1 C160.0,385.9 158.5,386.9 157.1,387.5 C155.7,388.1 154.0,389.1 152.8,389.0 C151.6,388.9 150.6,387.9 149.7,387.0 C148.8,386.1 147.0,384.7 147.2,383.8Z" fill="#c28bbb" stroke="#d66ca2" stroke-width="1.6"/>
<path d="M155.2,383.6 Q159,380.0 166.8,380.2 Q165,382.0 161.5,383.2 Q158.5,386.2 155.2,383.6Z" fill="#f2ecf4"/>
<circle cx="228.9" cy="402.2" r="1.10" fill="#2e2a6c"/>
<circle cx="231.6" cy="401.8" r="1.10" fill="#2e2a6c"/>
<circle cx="201.4" cy="418.4" r="0.75" fill="#2e2a6c"/>
<circle cx="153.8" cy="386.5" r="1.00" fill="#2e2a6c"/>
<line x1="229.00" y1="439.60" x2="242.90" y2="439.60" stroke="#333" stroke-width="1.3" />
<text transform="translate(262.60,344.30) scale(1.323,1)" font-size="10.04" font-weight="bold" fill="#000" stroke="#000" stroke-width="0.12" >H</text>
<line x1="299.40" y1="349.20" x2="299.40" y2="444.35" stroke="#111" stroke-width="1.1" />
<line x1="296.80" y1="351.50" x2="299.40" y2="351.50" stroke="#111" stroke-width="1.1" />
<text transform="translate(285.63,354.22) scale(1.010,1)" font-size="8.10" font-weight="normal" fill="#1a1a1a" stroke="#1a1a1a" stroke-width="0.12">20</text>
<line x1="296.80" y1="374.60" x2="299.40" y2="374.60" stroke="#111" stroke-width="1.1" />
<text transform="translate(285.65,377.32) scale(1.010,1)" font-size="8.10" font-weight="normal" fill="#1a1a1a" stroke="#1a1a1a" stroke-width="0.12">15</text>
<line x1="296.80" y1="397.60" x2="299.40" y2="397.60" stroke="#111" stroke-width="1.1" />
<text transform="translate(285.63,400.32) scale(1.010,1)" font-size="8.10" font-weight="normal" fill="#1a1a1a" stroke="#1a1a1a" stroke-width="0.12">10</text>
<line x1="296.80" y1="420.70" x2="299.40" y2="420.70" stroke="#111" stroke-width="1.1" />
<text transform="translate(290.19,423.42) scale(1.010,1)" font-size="8.10" font-weight="normal" fill="#1a1a1a" stroke="#1a1a1a" stroke-width="0.12">5</text>
<line x1="296.80" y1="443.80" x2="299.40" y2="443.80" stroke="#111" stroke-width="1.1" />
<text transform="translate(290.17,446.52) scale(1.010,1)" font-size="8.10" font-weight="normal" fill="#1a1a1a" stroke="#1a1a1a" stroke-width="0.12">0</text>
<line x1="299.40" y1="443.80" x2="390.80" y2="443.80" stroke="#111" stroke-width="1.1" />
<line x1="325.80" y1="443.80" x2="325.80" y2="446.40" stroke="#111" stroke-width="1.1" />
<line x1="364.80" y1="443.80" x2="364.80" y2="446.40" stroke="#111" stroke-width="1.1" />
<text transform="translate(278.57,415.13) rotate(-90) scale(0.942,1)" font-size="6.85" font-weight="normal" fill="#1a1a1a" stroke="#1a1a1a" stroke-width="0.28">Nodules/lung</text>
<text transform="translate(314.02,468.94) rotate(-45)" font-size="7.31" font-weight="normal" fill="#1a1a1a" stroke="#1a1a1a" stroke-width="0.12">Saline</text>
<text transform="translate(340.03,483.45) rotate(-45)" font-size="7.99" font-weight="normal" fill="#1a1a1a" stroke="#1a1a1a" stroke-width="0.12">THPO-ASO</text>
<line x1="325.30" y1="353.10" x2="366.10" y2="353.10" stroke="#333" stroke-width="1.0" />
<circle cx="346.00" cy="349.40" r="0.80" fill="#222"/>
<circle cx="322.20" cy="362.20" r="2.50" fill="#a8102c"/>
<circle cx="329.30" cy="363.90" r="2.50" fill="#a8102c"/>
<circle cx="325.80" cy="379.70" r="2.50" fill="#a8102c"/>
<circle cx="325.80" cy="394.20" r="2.50" fill="#a8102c"/>
<circle cx="329.10" cy="408.80" r="2.50" fill="#a8102c"/>
<circle cx="322.00" cy="415.50" r="2.50" fill="#a8102c"/>
<line x1="312.80" y1="387.30" x2="338.80" y2="387.30" stroke="#111" stroke-width="1.2" />
<line x1="325.80" y1="378.10" x2="325.80" y2="396.50" stroke="#111" stroke-width="1.1" />
<line x1="319.10" y1="378.10" x2="332.50" y2="378.10" stroke="#111" stroke-width="1.1" />
<line x1="319.10" y1="396.50" x2="332.50" y2="396.50" stroke="#111" stroke-width="1.1" />
<rect x="362.80" y="387.50" width="4.60" height="4.60" fill="#1f3f7f"/>
<rect x="359.00" y="418.60" width="4.60" height="4.60" fill="#1f3f7f"/>
<rect x="366.40" y="418.60" width="4.60" height="4.60" fill="#1f3f7f"/>
<rect x="362.60" y="426.20" width="4.60" height="4.60" fill="#1f3f7f"/>
<rect x="366.00" y="434.70" width="4.60" height="4.60" fill="#1f3f7f"/>
<rect x="359.30" y="441.30" width="4.60" height="4.60" fill="#1f3f7f"/>
<line x1="352.20" y1="423.30" x2="377.80" y2="423.30" stroke="#111" stroke-width="1.2" />
<line x1="365.00" y1="415.50" x2="365.00" y2="431.20" stroke="#111" stroke-width="1.1" />
<line x1="358.50" y1="415.50" x2="371.50" y2="415.50" stroke="#111" stroke-width="1.1" />
<line x1="358.50" y1="431.20" x2="371.50" y2="431.20" stroke="#111" stroke-width="1.1" />
</svg>
</body></html>
